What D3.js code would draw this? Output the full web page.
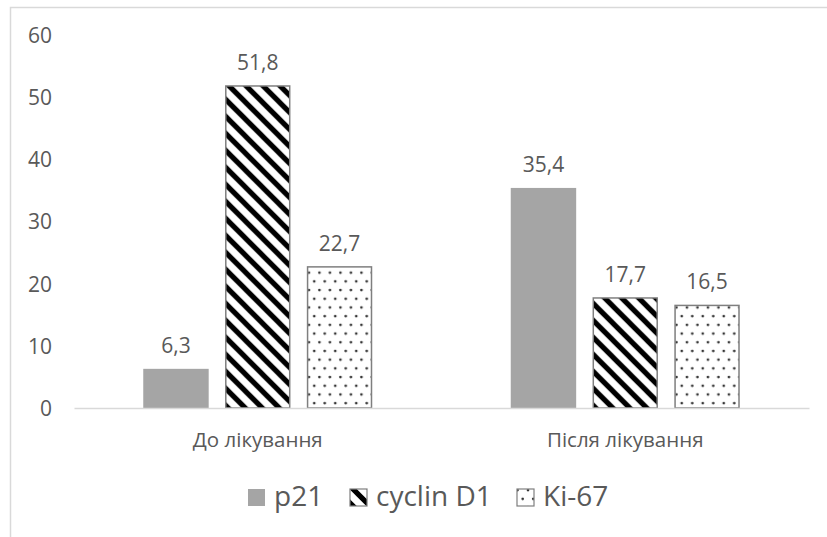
<!DOCTYPE html>
<html>
<head>
<meta charset="utf-8">
<script src="https://cdn.jsdelivr.net/npm/d3@7"></script>
<style>
  html, body { margin: 0; padding: 0; background: #fff; }
  svg { display: block; }
  text { font-family: "Open Sans", "Noto Sans", sans-serif; fill: #595959; }
</style>
</head>
<body>
<svg id="chart" width="827" height="537"></svg>
<script>
// Chart data
const categories = ["До лікування", "Після лікування"];
const seriesNames = ["p21", "cyclin D1", "Ki-67"];
const p21 = [6.3, 35.4];
const cyclinD1 = [51.8, 17.7];
const ki67 = [22.7, 16.5];
const yTicks = [0, 10, 20, 30, 40, 50, 60];

const seriesValues = [p21, cyclinD1, ki67];
const fmt = v => String(v).replace(".", ",");

const svg = d3.select("#chart");
const W = 827, H = 537;
const FONT = "'Open Sans', 'Noto Sans', sans-serif";

// Patterns for bar fills
const defs = svg.append("defs");
const stripe = defs.append("pattern")
  .attr("id", "stripes").attr("patternUnits", "userSpaceOnUse")
  .attr("width", 17).attr("height", 17);
stripe.append("rect").attr("width", 17).attr("height", 17).attr("fill", "#fff");
stripe.append("path")
  .attr("d", "M-4,-4 L21,21 M-12.5,4.5 L4.5,21.5 M4.5,-12.5 L21.5,4.5")
  .attr("stroke", "#000").attr("stroke-width", 5.2);

const dots = defs.append("pattern")
  .attr("id", "dots").attr("patternUnits", "userSpaceOnUse")
  .attr("width", 21).attr("height", 17.4);
dots.append("rect").attr("width", 21).attr("height", 17.4).attr("fill", "#fff");
[[3, 3], [13.5, 3], [8.2, 11.7], [18.7, 11.7]].forEach(([cx, cy]) => {
  dots.append("circle").attr("cx", cx).attr("cy", cy).attr("r", 1.35).attr("fill", "#333");
});

const fills = ["#a5a5a5", "url(#stripes)", "url(#dots)"];
const strokes = ["none", "#7f7f7f", "#7f7f7f"];

// Chart frame (left and top edges)
svg.append("path")
  .attr("d", `M10.5,${H} L10.5,7.5 L${W},7.5`)
  .attr("fill", "none").attr("stroke", "#d9d9d9").attr("stroke-width", 1.5);

// Scales
const x0 = d3.scaleBand().domain(categories).range([74, 809]).paddingInner(0).paddingOuter(0);
const x1 = d3.scaleBand().domain(seriesNames).range([0, 229]).paddingInner(0.2).paddingOuter(0);
const y = d3.scaleLinear().domain([0, 60]).range([408, 35]);

// Y axis labels
const yAxis = d3.axisLeft(y).tickValues(yTicks).tickSize(0).tickPadding(0).tickFormat(d3.format("d"));
const gy = svg.append("g").attr("transform", "translate(52,0)").call(yAxis);
gy.select(".domain").remove();
gy.selectAll("text").style("font-size", "21px").attr("fill", "#595959")
  .style("font-family", FONT).attr("dy", "0.35em");

// Bars
const groups = svg.append("g").selectAll("g").data(categories).join("g")
  .attr("transform", d => `translate(${x0(d) + (x0.bandwidth() - 229) / 2},0)`);

seriesNames.forEach((s, si) => {
  groups.append("rect")
    .attr("x", x1(s) + (strokes[si] === "none" ? 0 : 0.75))
    .attr("width", x1.bandwidth() - (strokes[si] === "none" ? 0 : 1.5))
    .attr("y", (d, ci) => y(seriesValues[si][ci]))
    .attr("height", (d, ci) => y(0) - y(seriesValues[si][ci]))
    .attr("fill", fills[si])
    .attr("stroke", strokes[si])
    .attr("stroke-width", 1.5);
  groups.append("text")
    .attr("x", x1(s) + x1.bandwidth() / 2)
    .attr("y", (d, ci) => y(seriesValues[si][ci]) - 16)
    .attr("text-anchor", "middle")
    .style("font-size", "21px")
    .text((d, ci) => fmt(seriesValues[si][ci]));
});

// X axis baseline and category labels
const xAxis = d3.axisBottom(x0).tickSize(0).tickPadding(0);
const gx = svg.append("g").attr("transform", `translate(0,${y(0)})`).call(xAxis);
gx.select(".domain").attr("stroke", "#d9d9d9").attr("stroke-width", 1.5);
gx.selectAll("text").attr("dy", "0").attr("y", 39).style("font-size", "20.5px")
  .attr("fill", "#595959").style("font-family", FONT);

// Legend
const legendItems = [
  { name: "p21", fill: fills[0], stroke: "none", x: 248 },
  { name: "cyclin D1", fill: fills[1], stroke: "#7f7f7f", x: 350 },
  { name: "Ki-67", fill: fills[2], stroke: "#7f7f7f", x: 517 }
];
const lg = svg.append("g");
legendItems.forEach(it => {
  lg.append("rect").attr("x", it.x).attr("y", 489).attr("width", 17).attr("height", 17)
    .attr("fill", it.fill).attr("stroke", it.stroke).attr("stroke-width", 1.2);
  lg.append("text").attr("x", it.x + 26).attr("y", 506)
    .style("font-size", "28px").text(it.name);
});
</script>
</body>
</html>
